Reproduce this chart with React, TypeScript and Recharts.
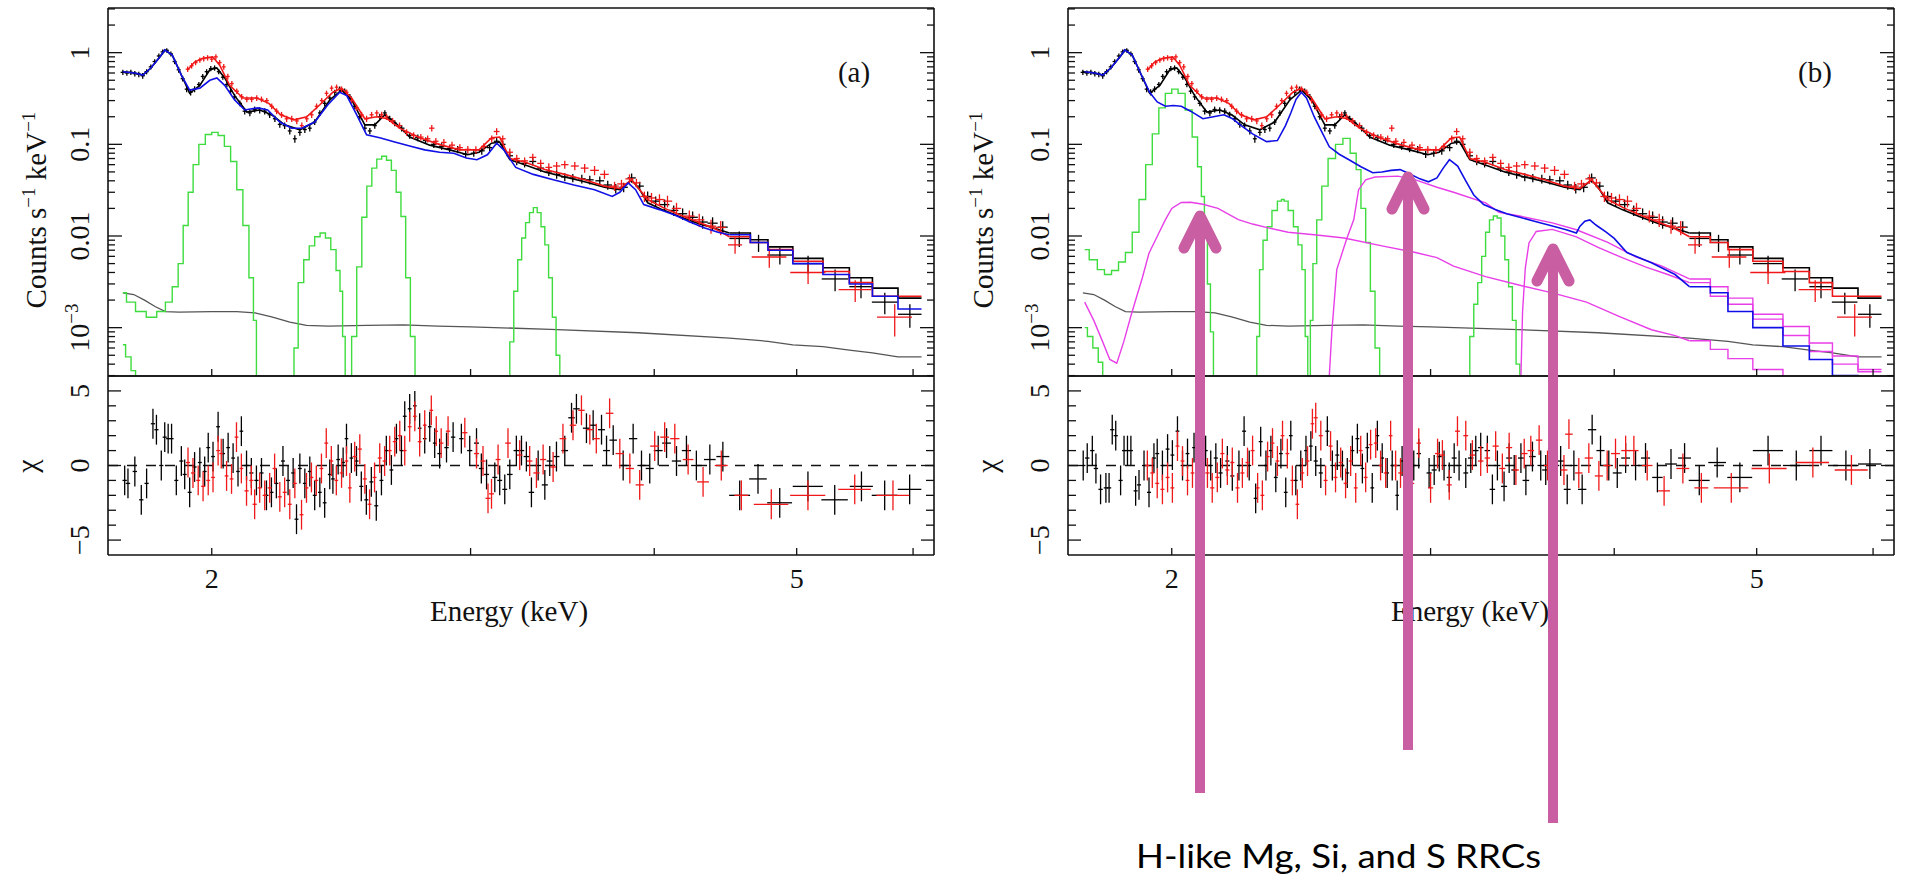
import React from 'react';
import {
  ComposedChart,
  Line,
  Scatter,
  ErrorBar,
  XAxis,
  YAxis,
  ReferenceLine,
} from 'recharts';

type P2 = [number, number];
type P3 = [number, number, number];
type P4 = [number, number, number, number];

const SERIF = '"Liberation Serif", "Times New Roman", Times, serif';
const INK = '#111';
const BLACK = '#000';
const RED = '#f01818';
const BLUE = '#1010e6';
const GREEN = '#3fdc3f';
const MAGENTA = '#e83ee8';
const GREY = '#555';
const PINK = '#c95fa2';

// axes
const energyDomain: [number, number] = [1.7, 6.2];
const energyTicks = [2, 3, 4, 5, 6];
const energyLabels = [2, 5];
const rateDomain: [number, number] = [2.97e-4, 3.07];
const rateMajor = [0.001, 0.01, 0.1, 1];
const rateLabels = ['10^−3', '0.01', '0.1', '1'];
const chiDomain: [number, number] = [-6, 6];
const chiTicks = [-5, -4, -3, -2, -1, 0, 1, 2, 3, 4, 5];
const chiLabels = [-5, 0, 5];

const rateTicks = [-4, -3, -2, -1, 0]
  .flatMap((k) => [1, 2, 3, 4, 5, 6, 7, 8, 9].map((m) => Number((m * 10 ** k).toPrecision(2))))
  .filter((v) => v >= rateDomain[0] && v <= rateDomain[1]);

// wide high-energy bins (keV) shared by the folded models
const binEdges = [4.5, 4.65, 4.78, 4.97, 5.21, 5.43, 5.63, 5.86, 6.08];

// black (FI) model
const blackSmooth: P2[] = [
  [1.74, 0.62], [1.773, 0.6], [1.795, 0.57], [1.818, 0.68], [1.846, 0.92], [1.858, 1.07], [1.88, 0.94],
  [1.907, 0.57], [1.932, 0.36], [1.963, 0.44], [1.994, 0.65], [2.016, 0.68], [2.041, 0.53], [2.073, 0.34],
  [2.113, 0.225], [2.156, 0.237], [2.197, 0.21], [2.242, 0.163], [2.296, 0.144], [2.35, 0.175], [2.406, 0.305],
  [2.451, 0.39], [2.49, 0.305], [2.542, 0.163], [2.582, 0.163], [2.623, 0.21], [2.664, 0.175], [2.727, 0.12],
  [2.814, 0.098], [2.903, 0.087], [2.987, 0.077], [3.04, 0.082], [3.1, 0.103], [3.14, 0.106], [3.19, 0.068],
  [3.265, 0.06], [3.37, 0.05], [3.477, 0.044], [3.587, 0.039], [3.7, 0.034], [3.79, 0.032], [3.861, 0.041],
  [3.91, 0.032], [3.959, 0.023], [4.05, 0.0194], [4.16, 0.0163], [4.29, 0.0136], [4.39, 0.0122], [4.5, 0.0108],
];
const blackBins = [0.0108, 0.0091, 0.0076, 0.0057, 0.0045, 0.0035, 0.0027, 0.0021];

// red (BI) model
const redSmooth: P2[] = [
  [1.926, 0.65], [1.947, 0.79], [1.972, 0.87], [2.003, 0.9], [2.025, 0.73], [2.057, 0.44], [2.1, 0.32],
  [2.146, 0.32], [2.187, 0.28], [2.228, 0.21], [2.275, 0.185], [2.321, 0.2], [2.369, 0.27], [2.418, 0.37],
  [2.451, 0.41], [2.49, 0.32], [2.542, 0.19], [2.59, 0.2], [2.633, 0.19], [2.684, 0.15], [2.77, 0.118],
  [2.867, 0.098], [2.95, 0.087], [3.04, 0.087], [3.1, 0.118], [3.14, 0.12], [3.19, 0.07], [3.265, 0.064],
  [3.37, 0.053], [3.477, 0.047], [3.587, 0.041], [3.7, 0.035], [3.79, 0.033], [3.861, 0.041], [3.91, 0.032],
  [3.959, 0.025], [4.066, 0.02], [4.182, 0.0165], [4.292, 0.014], [4.39, 0.0122], [4.5, 0.0098],
];
const redBins = [0.0098, 0.0085, 0.0071, 0.0053, 0.0041, 0.0031, 0.0022, 0.0022];

// blue model, panel (a)
const blueSmoothA: P2[] = [
  [1.74, 0.62], [1.773, 0.6], [1.795, 0.57], [1.818, 0.68], [1.846, 0.92], [1.858, 1.07], [1.88, 0.94],
  [1.907, 0.57], [1.932, 0.39], [1.963, 0.41], [1.994, 0.5], [2.016, 0.53], [2.041, 0.44], [2.073, 0.305],
  [2.106, 0.237], [2.15, 0.25], [2.183, 0.237], [2.225, 0.175], [2.267, 0.15], [2.303, 0.15], [2.35, 0.175],
  [2.399, 0.27], [2.444, 0.37], [2.471, 0.34], [2.51, 0.21], [2.549, 0.127], [2.602, 0.118], [2.664, 0.106],
  [2.727, 0.096], [2.792, 0.087], [2.858, 0.082], [2.922, 0.08], [2.98, 0.071], [3.03, 0.068], [3.08, 0.077],
  [3.125, 0.103], [3.16, 0.087], [3.22, 0.056], [3.31, 0.047], [3.415, 0.041], [3.527, 0.036], [3.643, 0.032],
  [3.745, 0.027], [3.79, 0.03], [3.84, 0.038], [3.885, 0.032], [3.935, 0.022], [4.033, 0.0194], [4.13, 0.0169],
  [4.23, 0.0142], [4.33, 0.0122], [4.42, 0.011], [4.5, 0.0103],
];
const blueBinsA = [0.0103, 0.0085, 0.007, 0.005, 0.0038, 0.003, 0.0022, 0.0016];

// blue model, panel (b)
const blueSmoothB: P2[] = [
  [1.745, 0.62], [1.773, 0.6], [1.795, 0.57], [1.818, 0.68], [1.846, 0.92], [1.858, 1.07], [1.88, 0.94],
  [1.907, 0.57], [1.932, 0.37], [1.955, 0.29], [1.98, 0.26], [2.005, 0.265], [2.03, 0.26], [2.06, 0.23],
  [2.1, 0.19], [2.135, 0.2], [2.17, 0.21], [2.2, 0.19], [2.23, 0.16], [2.27, 0.13], [2.32, 0.107], [2.36, 0.11],
  [2.39, 0.16], [2.41, 0.22], [2.43, 0.31], [2.45, 0.37], [2.47, 0.32], [2.5, 0.2], [2.52, 0.155], [2.56, 0.094],
  [2.6, 0.078], [2.64, 0.068], [2.69, 0.057], [2.74, 0.049], [2.78, 0.05], [2.82, 0.052], [2.86, 0.053],
  [2.9, 0.048], [2.95, 0.042], [2.99, 0.039], [3.03, 0.043], [3.06, 0.055], [3.09, 0.068], [3.13, 0.058],
  [3.17, 0.04], [3.21, 0.028], [3.26, 0.022], [3.32, 0.0195], [3.38, 0.0175], [3.45, 0.016], [3.54, 0.0143],
  [3.62, 0.013], [3.71, 0.0117], [3.77, 0.0108], [3.79, 0.0127], [3.82, 0.0145], [3.85, 0.015], [3.88, 0.0135],
  [3.9, 0.0127], [3.95, 0.011], [4.0, 0.0094], [4.08, 0.0066], [4.24, 0.0051], [4.4, 0.0038], [4.5, 0.0028],
];
const blueBinsB = [0.0028, 0.0024, 0.0015, 0.001, 0.00063, 0.00045, 0.0003, 0.0002];

// background (grey)
const bkgGrey: P2[] = [
  [1.74, 0.0024], [1.77, 0.0023], [1.8, 0.002], [1.83, 0.0017], [1.86, 0.0015], [1.9, 0.00148], [2.0, 0.0015],
  [2.08, 0.0015], [2.14, 0.00145], [2.2, 0.0013], [2.26, 0.00115], [2.32, 0.00106], [2.4, 0.00104],
  [2.55, 0.00106], [2.7, 0.00107], [2.85, 0.00104], [3.0, 0.00102], [3.4, 0.00096], [3.9, 0.00088],
  [4.5, 0.00077], [4.78, 0.00071], [4.97, 0.00065], [5.21, 0.00062], [5.43, 0.00057], [5.63, 0.00053],
  [5.86, 0.00048], [6.08, 0.00048],
];

// gaussian lines (green), panel (a)
const lineA0: P2[] = [[1.74, 0.00065], [1.755, 0.00048], [1.77, 0.00034], [1.78, 0.00025], [1.79, 0.0001]];
const lineA1: P2[] = [
  [1.74, 0.0024], [1.76, 0.0019], [1.79, 0.0015], [1.82, 0.0013], [1.85, 0.0015], [1.87, 0.0019], [1.89, 0.0028],
  [1.905, 0.005], [1.92, 0.013], [1.935, 0.03], [1.95, 0.06], [1.97, 0.1], [1.99, 0.128], [2.01, 0.135],
  [2.03, 0.125], [2.05, 0.095], [2.07, 0.065], [2.09, 0.032], [2.11, 0.013], [2.13, 0.0035], [2.14, 0.0012],
  [2.15, 0.0003], [2.16, 0.0001],
];
const lineA2: P2[] = [
  [2.27, 0.0001], [2.28, 0.0006], [2.3, 0.0031], [2.32, 0.0055], [2.34, 0.0078], [2.36, 0.0098], [2.38, 0.0108],
  [2.4, 0.0095], [2.42, 0.0071], [2.44, 0.0042], [2.45, 0.0025], [2.46, 0.0008], [2.47, 0.0001],
];
const lineA3: P2[] = [
  [2.48, 0.0001], [2.5, 0.0008], [2.52, 0.0046], [2.54, 0.016], [2.56, 0.035], [2.58, 0.055], [2.6, 0.069],
  [2.62, 0.074], [2.64, 0.067], [2.66, 0.052], [2.68, 0.03], [2.7, 0.0163], [2.72, 0.0035], [2.74, 0.0008],
  [2.76, 0.0001],
];
const lineA4: P2[] = [
  [3.18, 0.0001], [3.2, 0.0007], [3.22, 0.0025], [3.24, 0.0055], [3.26, 0.0095], [3.28, 0.014], [3.3, 0.018],
  [3.32, 0.0204], [3.34, 0.018], [3.36, 0.0126], [3.38, 0.008], [3.4, 0.0035], [3.42, 0.0013], [3.44, 0.0005],
  [3.46, 0.0001],
];

// gaussian lines (green), panel (b)
const lineB0: P2[] = [[1.745, 0.001], [1.76, 0.0008], [1.775, 0.0006], [1.79, 0.00042], [1.8, 0.0003], [1.81, 0.0001]];
const lineB1: P2[] = [
  [1.745, 0.0071], [1.77, 0.0055], [1.79, 0.0043], [1.81, 0.0038], [1.83, 0.0042], [1.85, 0.0052], [1.87, 0.0066],
  [1.89, 0.011], [1.91, 0.025], [1.93, 0.06], [1.95, 0.13], [1.97, 0.25], [1.99, 0.36], [2.01, 0.4], [2.03, 0.36],
  [2.055, 0.237], [2.075, 0.12], [2.09, 0.057], [2.1, 0.027], [2.11, 0.0095], [2.12, 0.003], [2.13, 0.0009],
  [2.14, 0.0001],
];
const lineB2: P2[] = [
  [2.28, 0.0001], [2.29, 0.0008], [2.3, 0.0043], [2.315, 0.009], [2.33, 0.0126], [2.35, 0.019], [2.37, 0.024],
  [2.38, 0.025], [2.39, 0.024], [2.41, 0.019], [2.43, 0.0126], [2.445, 0.008], [2.46, 0.0043], [2.47, 0.0008],
  [2.48, 0.0001],
];
const lineB3: P2[] = [
  [2.48, 0.0001], [2.49, 0.0012], [2.5, 0.005], [2.52, 0.015], [2.54, 0.035], [2.57, 0.07], [2.6, 0.1],
  [2.63, 0.116], [2.66, 0.08], [2.68, 0.053], [2.7, 0.02], [2.72, 0.0085], [2.74, 0.0025], [2.76, 0.0006],
  [2.78, 0.0001],
];
const lineB4: P2[] = [
  [3.18, 0.0001], [3.2, 0.0008], [3.22, 0.0018], [3.24, 0.0031], [3.26, 0.006], [3.28, 0.011], [3.3, 0.015],
  [3.32, 0.0165], [3.34, 0.0157], [3.36, 0.01], [3.38, 0.0055], [3.4, 0.0028], [3.42, 0.0012], [3.44, 0.0004],
  [3.46, 0.0001],
];

// radiative recombination continua (magenta), panel (b)
const rrcMg: P2[] = [
  [1.745, 0.0019], [1.77, 0.0012], [1.795, 0.0007], [1.815, 0.00045], [1.835, 0.00041], [1.855, 0.0007],
  [1.875, 0.0013], [1.89, 0.002], [1.91, 0.0035], [1.93, 0.0065], [1.96, 0.0108], [1.98, 0.015], [2.0, 0.02],
  [2.03, 0.0232], [2.06, 0.0233], [2.1, 0.0222], [2.15, 0.02], [2.22, 0.0151], [2.27, 0.0135], [2.33, 0.0122],
  [2.4, 0.011], [2.5, 0.0103], [2.62, 0.0095], [2.78, 0.0078], [2.93, 0.0066], [3.03, 0.0058], [3.11, 0.0047],
  [3.27, 0.0036], [3.45, 0.0029], [3.63, 0.0024], [3.83, 0.0019], [4.03, 0.00133], [4.24, 0.00095],
  [4.4, 0.00082], [4.5, 0.00072],
];
const rrcMgBins = [0.00072, 0.00058, 0.00046, 0.00035, 0.0002, 0.0002, 0.0002, 0.0002];
const rrcSi: P2[] = [
  [2.55, 0.0001], [2.57, 0.0009], [2.59, 0.0043], [2.63, 0.0092], [2.66, 0.0151], [2.68, 0.032], [2.71, 0.041],
  [2.75, 0.044], [2.85, 0.045], [2.93, 0.041], [3.03, 0.034], [3.11, 0.03], [3.27, 0.023], [3.34, 0.0181],
  [3.45, 0.0165], [3.63, 0.0139], [3.77, 0.0117], [3.96, 0.0085], [4.14, 0.0059], [4.31, 0.0047], [4.5, 0.0034],
];
const rrcSiBins = [0.0034, 0.0028, 0.0021, 0.0014, 0.00103, 0.00068, 0.00049, 0.00035];
const rrcS: P2[] = [
  [3.45, 0.0001], [3.465, 0.0015], [3.48, 0.0045], [3.5, 0.0084], [3.54, 0.0112], [3.63, 0.0118],
  [3.77, 0.0098], [3.9, 0.0075], [4.05, 0.0058], [4.2, 0.0046], [4.35, 0.0038], [4.5, 0.0031],
];
const rrcSBins = [0.0031, 0.0022, 0.0018, 0.00124, 0.00082, 0.00055, 0.0004, 0.00033];

// observed spectra: [keV, counts/s/keV, keV half-width, error]
const obsBlack: P4[] = [
  [1.74, 0.61, 0.006, 0.04], [1.751, 0.6, 0.006, 0.04], [1.762, 0.61, 0.006, 0.04], [1.773, 0.59, 0.006, 0.04],
  [1.784, 0.58, 0.006, 0.04], [1.795, 0.56, 0.006, 0.04], [1.806, 0.62, 0.006, 0.04], [1.818, 0.7, 0.006, 0.045],
  [1.829, 0.8, 0.006, 0.05], [1.841, 0.92, 0.006, 0.06], [1.852, 1.02, 0.006, 0.06], [1.864, 1.06, 0.006, 0.06],
  [1.876, 0.97, 0.006, 0.06], [1.887, 0.8, 0.006, 0.05], [1.899, 0.65, 0.006, 0.045], [1.911, 0.52, 0.006, 0.035],
  [1.923, 0.4, 0.006, 0.03], [1.935, 0.37, 0.006, 0.03], [1.947, 0.4, 0.006, 0.03], [1.96, 0.45, 0.006, 0.03],
  [1.972, 0.55, 0.006, 0.035], [1.984, 0.62, 0.006, 0.04], [1.997, 0.67, 0.006, 0.045], [2.009, 0.68, 0.006, 0.045],
  [2.022, 0.62, 0.006, 0.04], [2.035, 0.54, 0.006, 0.035], [2.048, 0.45, 0.006, 0.03], [2.06, 0.38, 0.006, 0.025],
  [2.073, 0.33, 0.006, 0.025], [2.09, 0.28, 0.007, 0.02], [2.106, 0.23, 0.007, 0.018], [2.123, 0.22, 0.007, 0.017],
  [2.139, 0.24, 0.007, 0.018], [2.156, 0.235, 0.007, 0.018], [2.173, 0.23, 0.007, 0.018], [2.19, 0.21, 0.007, 0.016],
  [2.208, 0.19, 0.007, 0.015], [2.225, 0.165, 0.007, 0.013], [2.242, 0.16, 0.007, 0.013], [2.26, 0.14, 0.007, 0.012],
  [2.278, 0.115, 0.007, 0.011], [2.296, 0.135, 0.007, 0.011], [2.314, 0.145, 0.007, 0.012], [2.332, 0.15, 0.007, 0.012],
  [2.35, 0.175, 0.007, 0.013], [2.369, 0.22, 0.007, 0.016], [2.387, 0.28, 0.007, 0.02], [2.406, 0.32, 0.007, 0.022],
  [2.425, 0.37, 0.007, 0.025], [2.444, 0.4, 0.007, 0.027], [2.463, 0.38, 0.007, 0.026], [2.483, 0.33, 0.007, 0.023],
  [2.502, 0.26, 0.008, 0.019], [2.522, 0.2, 0.008, 0.015], [2.542, 0.15, 0.008, 0.012], [2.562, 0.14, 0.008, 0.011],
  [2.582, 0.16, 0.008, 0.012], [2.602, 0.2, 0.008, 0.015], [2.623, 0.22, 0.008, 0.016], [2.643, 0.19, 0.008, 0.015],
  [2.664, 0.17, 0.008, 0.013], [2.693, 0.15, 0.012, 0.012], [2.727, 0.125, 0.012, 0.01], [2.762, 0.118, 0.012, 0.01],
  [2.796, 0.11, 0.012, 0.009], [2.832, 0.1, 0.012, 0.009], [2.867, 0.095, 0.012, 0.008], [2.903, 0.09, 0.012, 0.008],
  [2.94, 0.088, 0.014, 0.008], [2.977, 0.078, 0.014, 0.007], [3.015, 0.08, 0.014, 0.007], [3.053, 0.085, 0.014, 0.008],
  [3.091, 0.092, 0.014, 0.008], [3.125, 0.108, 0.014, 0.009], [3.155, 0.1, 0.014, 0.009], [3.19, 0.075, 0.016, 0.007],
  [3.225, 0.065, 0.016, 0.006], [3.265, 0.062, 0.018, 0.006], [3.307, 0.065, 0.018, 0.006], [3.348, 0.055, 0.018, 0.005],
  [3.391, 0.05, 0.018, 0.005], [3.433, 0.047, 0.02, 0.005], [3.477, 0.044, 0.02, 0.0045], [3.521, 0.043, 0.02, 0.0045],
  [3.571, 0.042, 0.022, 0.0045], [3.616, 0.041, 0.022, 0.0045], [3.673, 0.04, 0.025, 0.0045], [3.719, 0.036, 0.025, 0.004],
  [3.766, 0.033, 0.025, 0.004], [3.813, 0.034, 0.025, 0.004], [3.861, 0.043, 0.025, 0.005], [3.91, 0.035, 0.025, 0.004],
  [3.959, 0.027, 0.025, 0.0035], [4.009, 0.024, 0.028, 0.003], [4.066, 0.022, 0.03, 0.003], [4.124, 0.019, 0.03, 0.0025],
  [4.182, 0.0175, 0.03, 0.0025], [4.248, 0.016, 0.035, 0.0025], [4.315, 0.0142, 0.035, 0.0022], [4.383, 0.0138, 0.035, 0.0022],
  [4.453, 0.0125, 0.035, 0.002], [4.57, 0.0094, 0.07, 0.0018], [4.71, 0.0085, 0.065, 0.0018], [4.87, 0.0062, 0.095, 0.0013],
  [5.09, 0.005, 0.12, 0.0011], [5.31, 0.0034, 0.11, 0.0009], [5.53, 0.0028, 0.1, 0.0007], [5.74, 0.0019, 0.115, 0.0005],
  [5.97, 0.0014, 0.11, 0.0004],
];
const obsRed: P4[] = [
  [1.926, 0.66, 0.006, 0.045], [1.938, 0.72, 0.006, 0.05], [1.95, 0.78, 0.006, 0.05], [1.963, 0.83, 0.006, 0.055],
  [1.975, 0.86, 0.006, 0.06], [1.987, 0.88, 0.006, 0.06], [2.0, 0.85, 0.006, 0.06], [2.013, 0.9, 0.006, 0.06],
  [2.025, 0.78, 0.006, 0.05], [2.038, 0.7, 0.006, 0.05], [2.051, 0.55, 0.006, 0.04], [2.064, 0.46, 0.006, 0.03],
  [2.08, 0.38, 0.007, 0.027], [2.096, 0.33, 0.007, 0.024], [2.113, 0.31, 0.007, 0.022], [2.129, 0.31, 0.007, 0.022],
  [2.146, 0.32, 0.007, 0.023], [2.162, 0.31, 0.007, 0.022], [2.18, 0.3, 0.007, 0.021], [2.197, 0.26, 0.007, 0.019],
  [2.214, 0.23, 0.007, 0.017], [2.231, 0.21, 0.007, 0.016], [2.249, 0.19, 0.007, 0.015], [2.267, 0.19, 0.007, 0.015],
  [2.285, 0.18, 0.007, 0.014], [2.303, 0.16, 0.007, 0.013], [2.321, 0.19, 0.007, 0.015], [2.339, 0.21, 0.007, 0.016],
  [2.357, 0.26, 0.007, 0.019], [2.376, 0.3, 0.007, 0.021], [2.394, 0.36, 0.007, 0.025], [2.413, 0.41, 0.007, 0.028],
  [2.432, 0.42, 0.007, 0.029], [2.451, 0.4, 0.007, 0.028], [2.471, 0.37, 0.007, 0.026], [2.49, 0.3, 0.007, 0.021],
  [2.509, 0.25, 0.008, 0.018], [2.529, 0.21, 0.008, 0.016], [2.549, 0.19, 0.008, 0.015], [2.569, 0.21, 0.008, 0.016],
  [2.59, 0.22, 0.008, 0.016], [2.61, 0.21, 0.008, 0.016], [2.63, 0.2, 0.008, 0.015], [2.655, 0.18, 0.01, 0.014],
  [2.684, 0.16, 0.01, 0.013], [2.714, 0.135, 0.012, 0.011], [2.744, 0.125, 0.012, 0.01], [2.775, 0.12, 0.012, 0.01],
  [2.805, 0.115, 0.012, 0.01], [2.823, 0.15, 0.012, 0.012], [2.841, 0.108, 0.012, 0.009], [2.877, 0.105, 0.012, 0.009],
  [2.914, 0.098, 0.014, 0.009], [2.95, 0.092, 0.014, 0.008], [2.987, 0.088, 0.014, 0.008], [3.025, 0.087, 0.014, 0.008],
  [3.063, 0.095, 0.014, 0.008], [3.101, 0.115, 0.014, 0.01], [3.125, 0.138, 0.014, 0.012], [3.155, 0.115, 0.014, 0.01],
  [3.19, 0.082, 0.016, 0.008], [3.225, 0.07, 0.016, 0.007], [3.265, 0.066, 0.018, 0.006], [3.307, 0.072, 0.018, 0.007],
  [3.348, 0.062, 0.018, 0.006], [3.391, 0.056, 0.018, 0.006], [3.433, 0.058, 0.02, 0.006], [3.477, 0.06, 0.02, 0.006],
  [3.532, 0.058, 0.022, 0.006], [3.587, 0.055, 0.022, 0.006], [3.643, 0.052, 0.025, 0.006], [3.7, 0.047, 0.025, 0.005],
  [3.759, 0.035, 0.025, 0.004], [3.8, 0.037, 0.025, 0.004], [3.848, 0.042, 0.025, 0.005], [3.89, 0.038, 0.025, 0.004],
  [3.939, 0.027, 0.025, 0.0035], [3.983, 0.026, 0.025, 0.0035], [4.033, 0.025, 0.028, 0.0035], [4.084, 0.024, 0.03, 0.0035],
  [4.142, 0.02, 0.03, 0.003], [4.226, 0.0165, 0.035, 0.0025], [4.292, 0.015, 0.035, 0.0025], [4.372, 0.0128, 0.035, 0.0022],
  [4.439, 0.0124, 0.035, 0.0022], [4.54, 0.008, 0.05, 0.0016], [4.79, 0.0059, 0.13, 0.0014], [5.09, 0.004, 0.14, 0.001],
  [5.48, 0.0026, 0.14, 0.0007], [5.83, 0.0013, 0.16, 0.0005],
];

// residuals in sigma: [keV, chi, keV half-width]
const chiBlackA: P3[] = [
  [1.745, -1.0, 0.006], [1.754, -1.2, 0.006], [1.773, -0.4, 0.006], [1.791, -2.3, 0.006], [1.806, -1.2, 0.006],
  [1.824, 2.8, 0.006], [1.834, 2.4, 0.006], [1.848, 0.0, 0.006], [1.858, 1.9, 0.006], [1.868, 1.8, 0.006],
  [1.878, 1.8, 0.006], [1.892, -1.0, 0.006], [1.907, 0.3, 0.006], [1.917, -0.6, 0.006], [1.932, -1.8, 0.006],
  [1.947, -0.1, 0.006], [1.963, 0.2, 0.006], [1.978, -0.4, 0.006], [1.989, 1.2, 0.006], [2.004, 0.6, 0.006],
  [2.02, 2.6, 0.006], [2.036, 0.8, 0.006], [2.052, 1.2, 0.006], [2.068, 0.5, 0.006], [2.084, -0.4, 0.006],
  [2.095, 2.3, 0.006], [2.112, 0.0, 0.007], [2.128, -0.5, 0.007], [2.145, -1.0, 0.007], [2.162, -0.5, 0.007],
  [2.179, -2.0, 0.007], [2.196, -1.8, 0.007], [2.213, -1.2, 0.007], [2.236, 0.3, 0.007], [2.254, -1.0, 0.007],
  [2.272, -0.5, 0.007], [2.284, -3.6, 0.007], [2.296, -0.2, 0.007], [2.314, -1.2, 0.007], [2.332, -0.4, 0.007],
  [2.35, -2.0, 0.007], [2.369, -1.8, 0.007], [2.387, -2.5, 0.007], [2.406, -0.6, 0.007], [2.418, -0.9, 0.007],
  [2.438, 0.4, 0.007], [2.457, 0.2, 0.007], [2.47, 1.8, 0.007], [2.489, 0.5, 0.007], [2.509, 0.3, 0.008],
  [2.528, -1.4, 0.008], [2.548, -2.3, 0.008], [2.568, -1.1, 0.008], [2.588, -2.7, 0.008], [2.609, -1.0, 0.008],
  [2.629, 1.0, 0.008], [2.65, -0.3, 0.008], [2.671, 1.8, 0.008], [2.692, 1.0, 0.008], [2.706, 3.3, 0.008],
  [2.727, 3.8, 0.008], [2.749, 4.0, 0.008], [2.77, 2.5, 0.008], [2.792, 1.8, 0.008], [2.814, 2.6, 0.008],
  [2.836, 1.5, 0.008], [2.858, 0.8, 0.01], [2.889, 1.2, 0.01], [2.919, 1.9, 0.01], [2.957, 1.8, 0.01],
  [2.996, 1.0, 0.012], [3.028, 1.5, 0.012], [3.051, -0.2, 0.012], [3.076, -0.6, 0.012], [3.116, -0.8, 0.012],
  [3.14, -1.0, 0.012], [3.165, -1.6, 0.012], [3.19, -0.6, 0.014], [3.223, 1.0, 0.014], [3.249, 1.0, 0.014],
  [3.274, 0.6, 0.014], [3.3, -1.8, 0.014], [3.335, 0.0, 0.016], [3.37, -1.3, 0.016], [3.396, 0.3, 0.016],
  [3.432, 0.6, 0.016], [3.477, 1.0, 0.018], [3.514, 3.2, 0.018], [3.541, 3.8, 0.018], [3.597, 2.5, 0.02],
  [3.635, 2.7, 0.02], [3.683, 2.4, 0.02], [3.712, 1.0, 0.02], [3.751, 1.7, 0.022], [3.81, 0.0, 0.025],
  [3.87, 1.8, 0.025], [3.921, 0.0, 0.025], [3.972, -0.2, 0.025], [4.025, 1.0, 0.028], [4.078, 1.5, 0.028],
  [4.142, 0.3, 0.03], [4.207, 1.0, 0.03], [4.273, 0.0, 0.035], [4.364, 0.4, 0.04], [4.454, 0.6, 0.045],
  [4.573, -2.0, 0.075], [4.706, -0.9, 0.065], [4.869, -2.5, 0.095], [5.089, -1.4, 0.12], [5.307, -2.3, 0.11],
  [5.534, -1.4, 0.1], [5.739, -2.0, 0.115], [5.968, -1.6, 0.11],
];
const chiRedA: P3[] = [
  [1.927, 0.2, 0.006], [1.942, -0.5, 0.006], [1.958, -1.0, 0.006], [1.973, -1.4, 0.006], [1.989, -1.0, 0.006],
  [2.004, -0.8, 0.006], [2.02, 1.0, 0.006], [2.03, 0.8, 0.006], [2.047, -0.7, 0.006], [2.063, -0.9, 0.006],
  [2.079, 1.9, 0.006], [2.095, -0.2, 0.006], [2.112, -1.7, 0.007], [2.128, -1.0, 0.007], [2.139, -2.6, 0.007],
  [2.156, -1.5, 0.007], [2.173, -2.0, 0.007], [2.19, -1.5, 0.007], [2.207, -0.2, 0.007], [2.225, -2.1, 0.007],
  [2.242, -1.8, 0.007], [2.26, -2.6, 0.007], [2.278, -1.2, 0.007], [2.302, -3.3, 0.007], [2.32, -1.5, 0.007],
  [2.338, -0.8, 0.007], [2.356, -1.0, 0.007], [2.375, -0.2, 0.007], [2.393, 1.5, 0.007], [2.412, 0.3, 0.007],
  [2.431, -1.0, 0.007], [2.451, -0.5, 0.007], [2.47, 0.3, 0.007], [2.483, -1.5, 0.007], [2.502, 0.6, 0.008],
  [2.522, 1.1, 0.008], [2.542, -0.9, 0.008], [2.561, -2.6, 0.008], [2.581, -0.8, 0.008], [2.602, 0.5, 0.008],
  [2.622, 0.3, 0.008], [2.643, 1.0, 0.008], [2.664, 1.6, 0.008], [2.685, 2.0, 0.008], [2.706, 1.0, 0.008],
  [2.727, 2.6, 0.008], [2.749, 3.3, 0.008], [2.77, 1.6, 0.008], [2.792, 2.7, 0.008], [2.821, 3.7, 0.008],
  [2.843, 2.3, 0.008], [2.865, 1.5, 0.01], [2.896, 2.3, 0.01], [2.973, 2.2, 0.012], [3.028, 0.8, 0.012],
  [3.059, 0.3, 0.012], [3.083, -2.2, 0.012], [3.1, -1.9, 0.012], [3.132, 0.4, 0.012], [3.181, 1.5, 0.014],
  [3.24, 0.7, 0.014], [3.291, 0.3, 0.014], [3.326, -0.5, 0.016], [3.361, 0.4, 0.016], [3.414, -0.1, 0.016],
  [3.467, 1.8, 0.018], [3.522, 2.7, 0.018], [3.569, 3.7, 0.018], [3.616, 2.4, 0.02], [3.653, 1.8, 0.02],
  [3.73, 3.5, 0.022], [3.79, 0.8, 0.025], [3.85, -0.2, 0.025], [3.91, -1.3, 0.025], [4.003, 1.3, 0.028],
  [4.066, 1.9, 0.028], [4.131, 1.8, 0.03], [4.218, 0.4, 0.035], [4.318, -1.1, 0.04], [4.443, 0.0, 0.045],
  [4.585, -2.0, 0.05], [4.805, -2.6, 0.13], [5.089, -2.0, 0.14], [5.476, -1.6, 0.14], [5.814, -2.0, 0.15],
];
const chiBlackB: P3[] = [
  [1.741, 0.0, 0.006], [1.752, 0.5, 0.006], [1.766, 1.0, 0.006], [1.776, -0.2, 0.006], [1.789, -1.6, 0.006],
  [1.804, -1.5, 0.006], [1.813, -1.5, 0.006], [1.822, 2.4, 0.006], [1.832, 2.0, 0.006], [1.846, -1.0, 0.006],
  [1.856, 1.0, 0.006], [1.866, 1.0, 0.006], [1.876, 1.0, 0.006], [1.89, -1.7, 0.006], [1.9, -1.3, 0.006],
  [1.915, 0.0, 0.006], [1.93, -1.8, 0.006], [1.945, 0.5, 0.006], [1.955, 0.8, 0.006], [1.971, 0.0, 0.006],
  [1.987, 1.1, 0.006], [2.002, 0.7, 0.006], [2.018, 2.3, 0.006], [2.034, 0.0, 0.006], [2.05, 0.8, 0.006],
  [2.071, 1.2, 0.006], [2.093, -0.5, 0.006], [2.109, 1.0, 0.007], [2.126, 0.0, 0.007], [2.143, 0.5, 0.007],
  [2.159, -0.5, 0.007], [2.182, 0.3, 0.007], [2.199, -0.7, 0.007], [2.222, 0.0, 0.007], [2.24, 2.3, 0.007],
  [2.258, 0.0, 0.007], [2.281, -2.2, 0.007], [2.299, 1.6, 0.007], [2.318, 0.0, 0.007], [2.336, 1.0, 0.007],
  [2.354, -0.8, 0.007], [2.373, 0.8, 0.007], [2.391, -1.8, 0.007], [2.41, 2.0, 0.007], [2.429, -1.0, 0.007],
  [2.448, 0.0, 0.007], [2.468, 1.0, 0.007], [2.487, 1.3, 0.007], [2.506, 0.3, 0.008], [2.526, -0.5, 0.008],
  [2.552, 2.3, 0.008], [2.572, 0.0, 0.008], [2.592, 0.7, 0.008], [2.613, 0.0, 0.008], [2.633, -0.5, 0.008],
  [2.654, 1.0, 0.008], [2.675, 1.8, 0.008], [2.696, -0.2, 0.008], [2.717, 1.2, 0.008], [2.738, -1.5, 0.008],
  [2.76, 2.0, 0.008], [2.781, 0.5, 0.008], [2.803, -0.5, 0.008], [2.825, 0.0, 0.008], [2.847, -2.0, 0.008],
  [2.869, 0.3, 0.01], [2.899, 1.0, 0.01], [2.922, 0.0, 0.01], [2.945, 0.8, 0.01], [2.993, -0.5, 0.012],
  [3.017, -0.3, 0.012], [3.041, 0.6, 0.012], [3.064, 0.0, 0.012], [3.089, -0.8, 0.012], [3.113, 0.5, 0.012],
  [3.137, 0.0, 0.012], [3.17, -0.5, 0.012], [3.195, 0.5, 0.014], [3.22, 1.0, 0.014], [3.245, 1.2, 0.014],
  [3.279, 1.0, 0.014], [3.305, -1.6, 0.014], [3.331, 0.0, 0.016], [3.366, -1.4, 0.016], [3.393, 0.5, 0.016],
  [3.42, -0.3, 0.016], [3.456, 0.5, 0.016], [3.483, -1.0, 0.018], [3.519, 0.6, 0.018], [3.565, 0.0, 0.018],
  [3.593, -0.3, 0.02], [3.65, 0.0, 0.02], [3.678, 0.3, 0.02], [3.716, -1.6, 0.02], [3.755, 0.0, 0.022],
  [3.804, -1.6, 0.025], [3.864, 2.4, 0.025], [3.915, 1.0, 0.025], [3.966, 0.0, 0.025], [4.019, -0.5, 0.028],
  [4.072, 0.5, 0.028], [4.136, 0.0, 0.03], [4.201, 0.5, 0.03], [4.28, -0.8, 0.035], [4.372, 0.1, 0.04],
  [4.466, 0.5, 0.045], [4.57, -1.0, 0.075], [4.7, 0.2, 0.065], [4.87, -0.8, 0.095], [5.09, 1.0, 0.12],
  [5.32, 0.0, 0.11], [5.53, 1.0, 0.1], [5.75, 0.0, 0.115], [5.97, 0.1, 0.11],
];
const chiRedB: P3[] = [
  [1.925, 0.0, 0.006], [1.94, -0.5, 0.006], [1.955, -1.2, 0.006], [1.971, -1.6, 0.006], [1.987, -0.8, 0.006],
  [2.002, -1.5, 0.006], [2.018, 1.3, 0.006], [2.034, 0.3, 0.006], [2.05, -1.0, 0.006], [2.066, -0.5, 0.006],
  [2.082, 0.5, 0.006], [2.098, -1.5, 0.006], [2.115, -0.5, 0.007], [2.131, -1.5, 0.007], [2.148, -0.8, 0.007],
  [2.165, 0.8, 0.007], [2.182, -0.3, 0.007], [2.199, 0.2, 0.007], [2.217, -1.5, 0.007], [2.234, -0.5, 0.007],
  [2.252, 0.2, 0.007], [2.27, 1.0, 0.007], [2.288, -1.5, 0.007], [2.305, -2.0, 0.007], [2.324, 0.6, 0.007],
  [2.342, 1.5, 0.007], [2.36, 0.3, 0.007], [2.379, 2.0, 0.007], [2.397, 0.8, 0.007], [2.416, -1.0, 0.007],
  [2.435, -2.6, 0.007], [2.454, -0.5, 0.007], [2.474, 0.3, 0.007], [2.493, 2.8, 0.007], [2.506, 3.2, 0.008],
  [2.526, 2.0, 0.008], [2.545, -1.0, 0.008], [2.565, 1.3, 0.008], [2.585, -0.8, 0.008], [2.606, 0.2, 0.008],
  [2.626, -1.2, 0.008], [2.647, 0.3, 0.008], [2.668, -1.5, 0.008], [2.689, 1.0, 0.008], [2.71, -0.8, 0.008],
  [2.731, 1.4, 0.008], [2.753, 1.5, 0.008], [2.774, 0.0, 0.008], [2.796, -0.5, 0.008], [2.818, 2.0, 0.008],
  [2.84, 0.0, 0.008], [2.862, -0.5, 0.01], [2.891, 0.5, 0.01], [2.914, -1.2, 0.01], [2.945, 1.5, 0.01],
  [3.0, -1.5, 0.012], [3.033, 0.8, 0.012], [3.056, 0.7, 0.012], [3.089, -1.3, 0.012], [3.129, 2.3, 0.012],
  [3.17, 2.0, 0.012], [3.203, 0.7, 0.014], [3.245, 0.3, 0.014], [3.279, 0.5, 0.014], [3.322, 1.3, 0.016],
  [3.357, -0.2, 0.016], [3.393, 1.2, 0.016], [3.429, -0.3, 0.016], [3.474, 0.8, 0.018], [3.51, 1.0, 0.018],
  [3.556, 1.7, 0.018], [3.603, 0.0, 0.02], [3.697, -0.3, 0.02], [3.726, 2.1, 0.022], [3.784, -0.5, 0.022],
  [3.844, 0.5, 0.025], [3.905, -0.7, 0.025], [3.956, 0.0, 0.025], [4.008, 0.8, 0.028], [4.072, 1.0, 0.028],
  [4.125, 1.0, 0.03], [4.212, 0.0, 0.035], [4.325, -1.7, 0.04], [4.454, -0.2, 0.045], [4.585, -1.5, 0.05],
  [4.805, -1.5, 0.13], [5.1, -0.2, 0.14], [5.46, 0.2, 0.14], [5.8, -0.3, 0.15],
];

// annotation arrows (page pixels): shaft x, tip y, tail y
const rrcArrows = [
  { x: 1200, tip: 216, tail: 793 },
  { x: 1408, tip: 177, tail: 750 },
  { x: 1553, tip: 249, tail: 823 },
];

type XY = { x: number; y: number };
type Curve = { pts: XY[]; color: string; type: 'linear' | 'step' | 'stepAfter'; width: number };
type Obs = { x: number; y: number; ex: number; ey: number }[];

const pts = (a: P2[]): XY[] => a.map(([x, y]) => ({ x, y }));
const binned = (vals: number[]): XY[] =>
  binEdges.map((x, i) => ({ x, y: vals[Math.min(i, vals.length - 1)] }));
const obs = (a: P4[]): Obs => a.map(([x, y, ex, ey]) => ({ x, y, ex, ey }));
const chi = (a: P3[]): Obs => a.map(([x, y, ex]) => ({ x, y, ex, ey: 1 }));

const smooth = (a: P2[], color: string, width = 1.6): Curve => ({ pts: pts(a), color, type: 'linear', width });
const steps = (v: number[], color: string, width = 1.6): Curve => ({ pts: binned(v), color, type: 'stepAfter', width });
const line = (a: P2[], color: string): Curve => ({ pts: pts(a), color, type: 'step', width: 1.4 });

const noMarker = () => <g />;

const isMajorRate = (v: number) => rateMajor.findIndex((m) => Math.abs(m - v) / m < 1e-6);

function RotatedLabel({ x, y, text, size }: { x: number; y: number; text: string; size: number }) {
  const [base, sup] = text.split('^');
  return (
    <text
      x={x}
      y={y}
      transform={`rotate(-90 ${x} ${y})`}
      textAnchor="middle"
      fontSize={size}
      fontFamily={SERIF}
      fill={INK}
    >
      {base}
      {sup && (
        <tspan fontSize={size * 0.68} dy={-size * 0.38}>
          {sup}
        </tspan>
      )}
    </text>
  );
}

const xTick = (dir: number, labelled: boolean) => (p: any) => {
  const { x, y, payload } = p;
  const v = payload.value;
  return (
    <g>
      <line x1={x} x2={x} y1={y} y2={y + dir * 7} stroke={INK} strokeWidth={1.3} />
      {labelled && energyLabels.includes(v) && (
        <text x={x} y={y + 33} textAnchor="middle" fontSize={28} fontFamily={SERIF} fill={INK}>
          {v}
        </text>
      )}
    </g>
  );
};

const rateTick = (side: 'left' | 'right') => (p: any) => {
  const { x, y, payload } = p;
  const idx = isMajorRate(payload.value);
  const len = idx >= 0 ? 14 : 7;
  return (
    <g>
      <line x1={x} x2={side === 'left' ? x + len : x - len} y1={y} y2={y} stroke={INK} strokeWidth={1.3} />
      {side === 'left' && idx >= 0 && <RotatedLabel x={x - 19} y={y} text={rateLabels[idx]} size={28} />}
    </g>
  );
};

const chiTick = (side: 'left' | 'right') => (p: any) => {
  const { x, y, payload } = p;
  const v = payload.value;
  const major = chiLabels.includes(v);
  const len = major ? 13 : 8;
  return (
    <g>
      <line x1={x} x2={side === 'left' ? x + len : x - len} y1={y} y2={y} stroke={INK} strokeWidth={1.3} />
      {side === 'left' && major && (
        <RotatedLabel x={x - 19} y={y} text={v < 0 ? `−${-v}` : `${v}`} size={28} />
      )}
    </g>
  );
};

const frame = { stroke: INK, strokeWidth: 1.6 };
// axes are 1px thick boxes: a zero-size axis is not rendered at all
const axisCommon = {
  type: 'number' as const,
  allowDataOverflow: true,
  interval: 0 as const,
  tickSize: 0,
  tickMargin: 0,
  tickLine: false,
  axisLine: frame,
};

function CrossSeries({ data, color }: { data: Obs; color: string }) {
  return (
    <Scatter
      data={data}
      xAxisId="x"
      yAxisId="y"
      dataKey="y"
      shape={noMarker}
      isAnimationActive={false}
    >
      <ErrorBar dataKey="ey" direction="y" width={0} stroke={color} strokeWidth={1.3} isAnimationActive={false} />
      <ErrorBar dataKey="ex" direction="x" width={0} stroke={color} strokeWidth={1.3} isAnimationActive={false} />
    </Scatter>
  );
}

function SpectrumChart({
  left,
  width,
  rightPad,
  under,
  over,
}: {
  left: number;
  width: number;
  rightPad: number;
  under: Curve[];
  over: Curve[];
}) {
  const drawCurve = (c: Curve, i: number, key: string) => (
    <Line
      key={`${key}${i}`}
      data={c.pts}
      xAxisId="x"
      yAxisId="y"
      dataKey="y"
      type={c.type}
      stroke={c.color}
      strokeWidth={c.width}
      dot={false}
      activeDot={false}
      isAnimationActive={false}
    />
  );
  return (
    <div style={{ position: 'absolute', left, top: 0 }}>
      <ComposedChart width={width} height={384} margin={{ top: 7, right: rightPad - 1, bottom: 7, left: 107 }}>
        <XAxis xAxisId="x" {...axisCommon} dataKey="x" scale="log" domain={energyDomain} ticks={energyTicks} height={1} tick={xTick(-1, false)} />
        <XAxis xAxisId="xt" {...axisCommon} orientation="top" scale="log" domain={energyDomain} ticks={energyTicks} height={1} tick={xTick(1, false)} />
        <YAxis yAxisId="y" {...axisCommon} dataKey="y" scale="log" domain={rateDomain} ticks={rateTicks} width={1} tick={rateTick('left')} />
        <YAxis yAxisId="yr" {...axisCommon} orientation="right" scale="log" domain={rateDomain} ticks={rateTicks} width={1} tick={rateTick('right')} />
        {under.map((c, i) => drawCurve(c, i, 'u'))}
        {drawCurve(smooth(blackSmooth, BLACK), 0, 'bk')}
        {drawCurve(steps(blackBins, BLACK), 1, 'bk')}
        {CrossSeries({ data: obs(obsBlack), color: BLACK })}
        {drawCurve(smooth(redSmooth, RED), 0, 'rd')}
        {drawCurve(steps(redBins, RED), 1, 'rd')}
        {CrossSeries({ data: obs(obsRed), color: RED })}
        {over.map((c, i) => drawCurve(c, i, 'o'))}
      </ComposedChart>
    </div>
  );
}

function ResidualChart({
  left,
  width,
  rightPad,
  black,
  red,
}: {
  left: number;
  width: number;
  rightPad: number;
  black: Obs;
  red: Obs;
}) {
  return (
    <div style={{ position: 'absolute', left, top: 370 }}>
      <ComposedChart width={width} height={270} margin={{ top: 5, right: rightPad - 1, bottom: 84, left: 107 }}>
        <XAxis xAxisId="x" {...axisCommon} dataKey="x" scale="log" domain={energyDomain} ticks={energyTicks} height={1} tick={xTick(-1, true)} />
        <XAxis xAxisId="xt" {...axisCommon} orientation="top" scale="log" domain={energyDomain} ticks={energyTicks} height={1} tick={() => <g />} />
        <YAxis yAxisId="y" {...axisCommon} dataKey="y" domain={chiDomain} ticks={chiTicks} width={1} tick={chiTick('left')} />
        <YAxis yAxisId="yr" {...axisCommon} orientation="right" domain={chiDomain} ticks={chiTicks} width={1} tick={chiTick('right')} />
        <ReferenceLine xAxisId="x" yAxisId="y" y={0} stroke={INK} strokeWidth={1.4} strokeDasharray="10 9" />
        {CrossSeries({ data: black, color: BLACK })}
        {CrossSeries({ data: red, color: RED })}
      </ComposedChart>
    </div>
  );
}

function Titles({ titleX, chiX, energyX, tag, tagX }: { titleX: number; chiX: number; energyX: number; tag: string; tagX: number }) {
  const sup = { fontSize: 19 };
  return (
    <g fontFamily={SERIF} fill={INK}>
      <text x={titleX} y={210} transform={`rotate(-90 ${titleX} 210)`} textAnchor="middle" fontSize={29}>
        Counts s
        <tspan dy={-11} {...sup}>−1</tspan>
        <tspan dy={11}> keV</tspan>
        <tspan dy={-11} {...sup}>−1</tspan>
      </text>
      <text x={chiX} y={466} transform={`rotate(-90 ${chiX} 466)`} textAnchor="middle" fontSize={30}>
        χ
      </text>
      <text x={energyX} y={621} textAnchor="middle" fontSize={29}>
        Energy (keV)
      </text>
      <text x={tagX} y={82} textAnchor="middle" fontSize={29}>
        {tag}
      </text>
    </g>
  );
}

function Overlay() {
  return (
    <svg
      width={1907}
      height={888}
      style={{ position: 'absolute', left: 0, top: 0, pointerEvents: 'none' }}
    >
      <Titles titleX={46} chiX={37} energyX={509} tag="(a)" tagX={854} />
      <Titles titleX={993} chiX={997} energyX={1470} tag="(b)" tagX={1815} />
      {rrcArrows.map((a, i) => (
        <g key={i} stroke={PINK} fill="none">
          <line x1={a.x} x2={a.x} y1={a.tip + 4} y2={a.tail} strokeWidth={10} />
          <polyline
            points={`${a.x - 16},${a.tip + 32} ${a.x},${a.tip} ${a.x + 16},${a.tip + 32}`}
            strokeWidth={11}
            strokeLinecap="round"
            strokeLinejoin="round"
          />
        </g>
      ))}
      <text x={1136} y={868} fontFamily="Lato, 'Open Sans', sans-serif" fontSize={33} fill="#000" textLength={405} lengthAdjust="spacingAndGlyphs">
        H-like Mg, Si, and S RRCs
      </text>
    </svg>
  );
}

export default function App() {
  const greenA = [lineA0, lineA1, lineA2, lineA3, lineA4].map((l) => line(l, GREEN));
  const greenB = [lineB0, lineB1, lineB2, lineB3, lineB4].map((l) => line(l, GREEN));
  const magentaB: Curve[] = [
    smooth(rrcMg, MAGENTA, 1.4),
    steps(rrcMgBins, MAGENTA, 1.4),
    smooth(rrcSi, MAGENTA, 1.4),
    steps(rrcSiBins, MAGENTA, 1.4),
    smooth(rrcS, MAGENTA, 1.4),
    steps(rrcSBins, MAGENTA, 1.4),
  ];
  const grey = smooth(bkgGrey, GREY, 1.3);
  return (
    <div
      style={{
        position: 'absolute',
        left: 0,
        top: 0,
        width: 1907,
        height: 888,
        background: '#fff',
        overflow: 'hidden',
      }}
    >
      <SpectrumChart
        left={0}
        width={960}
        rightPad={26}
        under={[grey, ...greenA]}
        over={[smooth(blueSmoothA, BLUE), steps(blueBinsA, BLUE)]}
      />
      <ResidualChart left={0} width={960} rightPad={26} black={chi(chiBlackA)} red={chi(chiRedA)} />
      <SpectrumChart
        left={960}
        width={947}
        rightPad={13}
        under={[grey, ...greenB, ...magentaB]}
        over={[smooth(blueSmoothB, BLUE), steps(blueBinsB, BLUE)]}
      />
      <ResidualChart left={960} width={947} rightPad={13} black={chi(chiBlackB)} red={chi(chiRedB)} />
      <Overlay />
    </div>
  );
}
